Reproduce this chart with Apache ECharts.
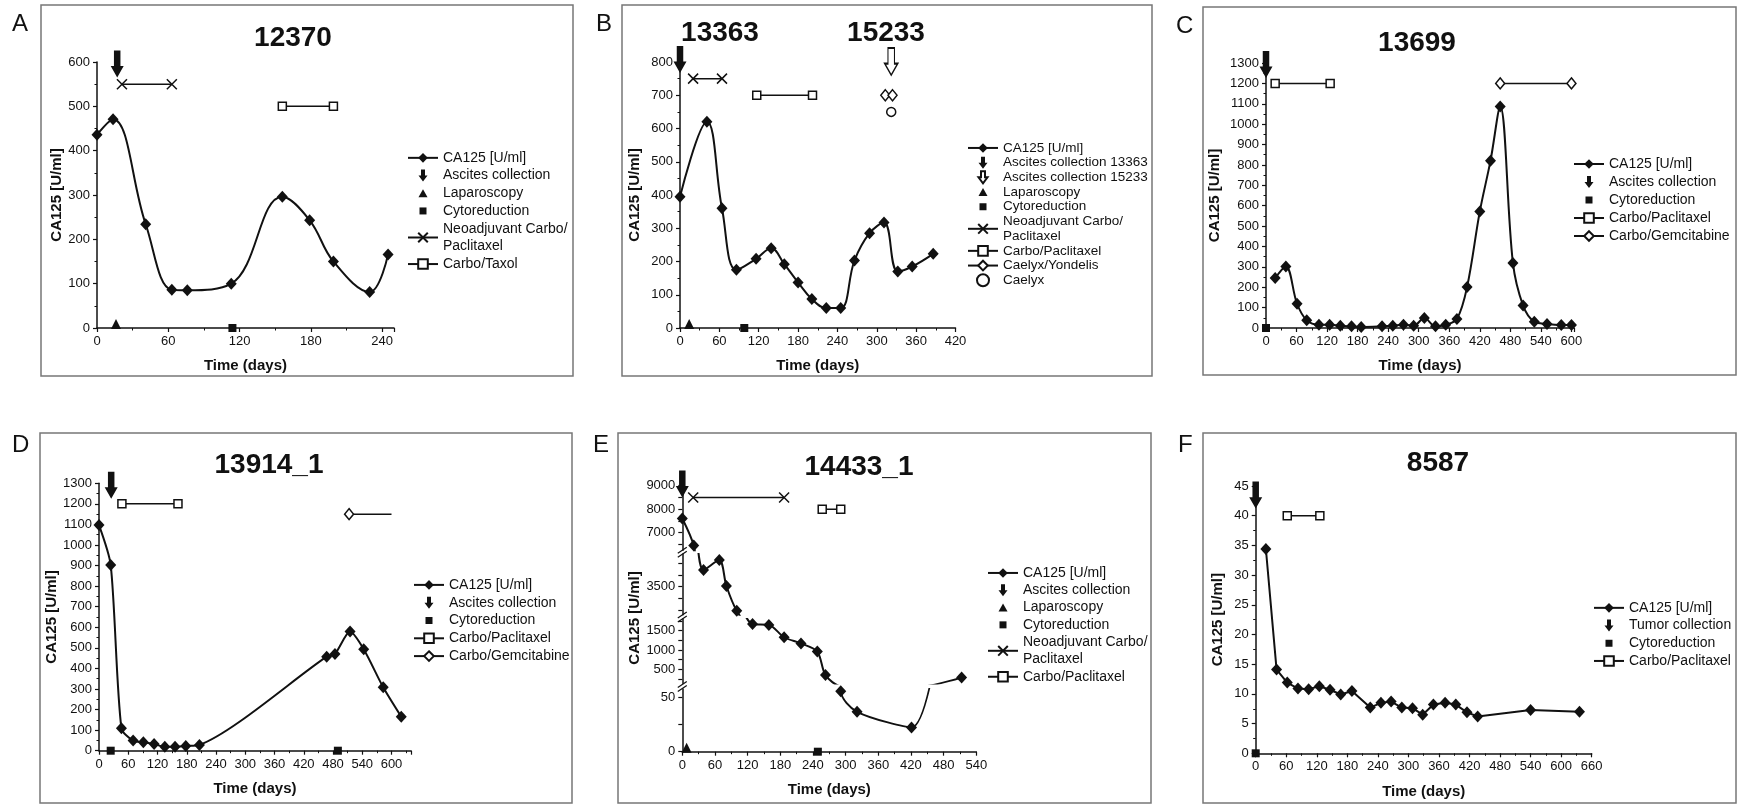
<!DOCTYPE html>
<html>
<head>
<meta charset="utf-8">
<script src="https://cdn.jsdelivr.net/npm/echarts@6/dist/echarts.min.js"></script>
<style>
html, body { margin: 0; padding: 0; background: #fff; }
#chart { width: 1747px; height: 804px; }
</style>
</head>
<body>
<div id="chart"></div>
<script>
// ---------- data: days after first visit, CA125 in U/ml ----------
// A: 12370
const aDays = [0, 13.5, 41, 63, 76, 113, 156, 179, 199, 229.5, 245];
const aCA125 = [436, 471, 234, 86, 85, 100, 296, 243, 150, 81, 166];
const aAscites = [[17, 565]];
const aLaparoscopy = [[16, 0]];
const aCytoreduction = [[114, 0]];
const aNeoadjuvant = [[21, 550], [63, 550]];
const aCarboTaxol = [[156, 500], [199, 500]];

// B: 13363 / 15233
const bDays = [0, 41, 64, 86, 116, 139, 159, 180, 201, 223, 245, 266, 289, 311, 332, 354, 386];
const bCA125 = [395, 620, 360, 175, 208, 240, 192, 137, 87, 60, 60, 203, 285, 317, 170, 185, 223];
const bAscites13363 = [[0, 767]];
const bAscites15233 = [[322, 761]];
const bLaparoscopy = [[14, 0]];
const bCytoreduction = [[98, 0]];
const bNeoadjuvant = [[20, 750], [64, 750]];
const bCarboPacli = [[117, 700], [202, 700]];
const bCaelyxYondelis = [[313, 700], [324, 700]];
const bCaelyx = [[322, 650]];

// C: 13699
const cDays = [18, 39, 61, 80, 104, 125, 146, 168, 187, 228, 249, 270, 290, 311, 333, 353, 375, 395, 420, 441, 460, 485, 505, 527, 552, 580, 600];
const cCA125 = [245, 302, 119, 38, 16, 16, 11, 8, 5, 8, 11, 16, 11, 49, 8, 16, 44, 201, 572, 821, 1087, 319, 110, 31, 20, 15, 15];
const cAscites = [[0, 1227]];
const cCytoreduction = [[0, 0]];
const cCarboPacli = [[18, 1200], [126, 1200]];
const cCarboGem = [[460, 1200], [600, 1200]];

// D: 13914_1
const dDays = [0, 24, 46, 70, 91, 113, 135, 156, 178, 206, 467, 484, 515, 543, 583, 620];
const dCA125 = [1097, 903, 109, 49, 41, 32, 19, 19, 23, 28, 457, 470, 579, 493, 308, 165];
const dAscites = [[25, 1225]];
const dCytoreduction = [[24, 0], [490, 0]];
const dCarboPacli = [[47, 1200], [162, 1200]];
const dCarboGemStart = [513, 1150];
const dCarboGemEnd = [600, 1150];

// E: 14433_1 (broken value axis)
const eDays = [0, 21, 39, 68, 81, 100, 129, 159, 187, 218, 248, 263, 291, 321, 421, 513];
const eCA125 = [7600, 6450, 4210, 4640, 3530, 2470, 1670, 1650, 1330, 1170, 960, 350, 56, 37, 22.5, 285];
const eAscites = [[0, 8500]];
const eLaparoscopy = [[8, 0]];
const eCytoreduction = [[249, 0]];
const eNeoadjuvant = [[20, 8500], [187, 8500]];
const eCarboPacli = [[257, 8000], [291, 8000]];
// axis pieces of the broken axis, top to bottom: [min, max]
const eRanges = [[6250, 9300], [2300, 4900], [130, 1800], [0, 58]];
const eLabels = [[7000, 8000, 9000], [3500], [500, 1000, 1500], [0, 50]];
const eTicks = [[6500, 7000, 7500, 8000, 8500, 9000], [2500, 3000, 3500, 4000, 4500],
  [250, 500, 750, 1000, 1250, 1500, 1750], [0, 25, 50]];

// F: 8587
const fDays = [20, 41, 62, 83, 104, 125, 146, 167, 189, 225, 246, 266, 287, 308, 328, 349, 372, 393, 415, 436, 540, 636];
const fCA125 = [34.4, 14.1, 11.9, 10.9, 10.8, 11.3, 10.7, 9.9, 10.5, 7.7, 8.5, 8.7, 7.7, 7.6, 6.5, 8.2, 8.5, 8.2, 6.9, 6.2, 7.3, 7.0];
const fTumor = [[0, 41.2]];
const fCytoreduction = [[0, 0]];
const fCarboPacli = [[62, 40], [126, 40]];

// ---------- styling ----------
const FONT = '"Liberation Sans", Arial, sans-serif';
const INK = '#111';
const ARROW = 'path://M3,0L9,0L9,15L12,15L6,26L0,15L3,15Z';
const CROSS = 'path://M0,0L10,10M10,0L0,10';
const SMALL_RECT = 'path://M0,0M12,12M2.5,2.5L9.5,2.5L9.5,9.5L2.5,9.5Z';
const SMALL_TRI = 'path://M0,0M12,12M6,2L10.5,10L1.5,10Z';
const WIDE_ARROW = 'path://M0,0M10,0M3,0L7,0L7,6L9.5,6L5,12L0.5,6L3,6Z';

const NEO = 'Neoadjuvant Carbo/\nPaclitaxel';

const grids = [
  { left: 97, top: 62, width: 297, height: 266 },        // A
  { left: 680, top: 62, width: 275.5, height: 266 },     // B
  { left: 1266, top: 63, width: 308, height: 265 },      // C
  { left: 99, top: 483.3, width: 312, height: 267.4 },   // D
  { left: 682.3, top: 478.6, width: 294, height: 71.7 }, // E pieces
  { left: 682.3, top: 554, width: 294, height: 60.7 },
  { left: 682.3, top: 619.1, width: 294, height: 64.5 },
  { left: 682.3, top: 689.1, width: 294, height: 62.6 },
  { left: 1255.7, top: 486, width: 336, height: 267.3 }  // F
];

const pts = (days, vals) => days.map((d, i) => [d, vals[i]]);

const labelStyle = { color: INK, fontSize: 13, fontFamily: FONT, margin: 7 };
const nameStyle = { color: INK, fontSize: 15, fontWeight: 'bold', fontFamily: FONT };

function xAx(gi, max, extra) {
  return Object.assign({
    type: 'value', gridIndex: gi, min: 0, max: max, interval: 60,
    axisLine: { onZero: false, lineStyle: { color: INK, width: 1.5 } },
    axisTick: { length: 4, lineStyle: { color: INK, width: 1.2 } },
    minorTick: { show: true, splitNumber: 2, length: 2.5, lineStyle: { color: INK } },
    splitLine: { show: false },
    axisLabel: Object.assign({ formatter: v => (v % 60 ? '' : String(v)) }, labelStyle),
    name: 'Time (days)', nameLocation: 'middle', nameGap: 30.5, nameTextStyle: nameStyle
  }, extra || {});
}

function yAx(gi, max, interval, nameGap) {
  return {
    type: 'value', gridIndex: gi, min: 0, max: max, interval: interval,
    axisLine: { onZero: false, lineStyle: { color: INK, width: 1.5 } },
    axisTick: { length: 4, lineStyle: { color: INK, width: 1.2 } },
    minorTick: { show: true, splitNumber: 2, length: 2.5, lineStyle: { color: INK } },
    splitLine: { show: false },
    axisLabel: Object.assign({ formatter: v => String(v) }, labelStyle),
    name: 'CA125 [U/ml]', nameLocation: 'middle', nameGap: nameGap, nameTextStyle: nameStyle
  };
}

function eYAx(k) {
  return {
    type: 'value', gridIndex: 4 + k, min: eRanges[k][0], max: eRanges[k][1],
    axisLine: { onZero: false, lineStyle: { color: INK, width: 1.5 } },
    axisTick: { length: 4, lineStyle: { color: INK, width: 1.2 }, customValues: eTicks[k] },
    splitLine: { show: false },
    axisLabel: Object.assign({ customValues: eLabels[k], formatter: v => String(v) }, labelStyle)
  };
}

function caLine(gi, days, vals, smooth) {
  return {
    type: 'line', name: 'CA125 [U/ml]', xAxisIndex: gi, yAxisIndex: gi,
    data: pts(days, vals), smooth: smooth, symbol: 'diamond', symbolSize: [11, 12],
    lineStyle: { color: INK, width: 2 }, itemStyle: { color: INK, opacity: 1 }, z: 3
  };
}

function mark(gi, name, data, symbol, size, hollow, offset) {
  return {
    type: 'scatter', name: name, xAxisIndex: gi, yAxisIndex: gi, data: data, clip: false,
    symbol: symbol, symbolSize: size, symbolOffset: offset || [0, 0],
    itemStyle: hollow ? { color: '#fff', borderColor: INK, borderWidth: 1.5, opacity: 1 }
                      : { color: INK, opacity: 1 },
    z: 4
  };
}

const arrow = (gi, name, data, hollow) => mark(gi, name, data, ARROW, [13, 27], hollow, [0, '-50%']);

function treat(gi, name, data, symbol, size) {
  return {
    type: 'line', name: name, xAxisIndex: gi, yAxisIndex: gi, data: data, clip: false,
    symbol: symbol, symbolSize: size, showAllSymbol: true,
    lineStyle: { color: INK, width: 1.5 },
    itemStyle: { color: '#fff', borderColor: INK, borderWidth: 1.5 }, z: 4
  };
}

function legend(left, top, names, lineHeight, fontSize) {
  return {
    left: left, top: top, orient: 'vertical', padding: 0, itemGap: 0,
    itemWidth: 30, itemHeight: 12, selectedMode: false,
    textStyle: { color: INK, fontSize: fontSize || 14, fontFamily: FONT, lineHeight: lineHeight },
    data: names.map(n => {
      if (n === 'Cytoreduction') return { name: n, icon: SMALL_RECT };
      if (n === 'Laparoscopy') return { name: n, icon: SMALL_TRI };
      if (n.indexOf('collection') >= 0) return { name: n, icon: WIDE_ARROW };
      return n;
    })
  };
}

// ---------- series ----------
const series = [
  // A
  caLine(0, aDays, aCA125, 0.4),
  arrow(0, 'Ascites collection', aAscites, false),
  mark(0, 'Laparoscopy', aLaparoscopy, 'triangle', 10, false, [0, '-40%']),
  mark(0, 'Cytoreduction', aCytoreduction, 'rect', 8),
  treat(0, NEO, aNeoadjuvant, CROSS, 10),
  treat(0, 'Carbo/Taxol', aCarboTaxol, 'rect', 8),
  // B
  caLine(1, bDays, bCA125, 0.4),
  arrow(1, 'Ascites collection 13363', bAscites13363, false),
  arrow(1, 'Ascites collection 15233', bAscites15233, true),
  mark(1, 'Laparoscopy', bLaparoscopy, 'triangle', 10, false, [0, '-40%']),
  mark(1, 'Cytoreduction', bCytoreduction, 'rect', 8),
  treat(1, NEO, bNeoadjuvant, CROSS, 10),
  treat(1, 'Carbo/Paclitaxel', bCarboPacli, 'rect', 8),
  treat(1, 'Caelyx/Yondelis', bCaelyxYondelis, 'diamond', [9, 11]),
  mark(1, 'Caelyx', bCaelyx, 'circle', 9, true),
  // C
  caLine(2, cDays, cCA125, 0.35),
  arrow(2, 'Ascites collection', cAscites, false),
  mark(2, 'Cytoreduction', cCytoreduction, 'rect', 8),
  treat(2, 'Carbo/Paclitaxel', cCarboPacli, 'rect', 8),
  treat(2, 'Carbo/Gemcitabine', cCarboGem, 'diamond', [9, 11]),
  // D
  caLine(3, dDays, dCA125, 0.25),
  arrow(3, 'Ascites collection', dAscites, false),
  mark(3, 'Cytoreduction', dCytoreduction, 'rect', 8),
  treat(3, 'Carbo/Paclitaxel', dCarboPacli, 'rect', 8),
  treat(3, 'Carbo/Gemcitabine', [dCarboGemStart, { value: dCarboGemEnd, symbol: 'none' }], 'diamond', [9, 11]),
  // E (one copy of the curve per axis piece)
  caLine(4, eDays, eCA125, 0.3),
  caLine(5, eDays, eCA125, 0.3),
  caLine(6, eDays, eCA125, 0.3),
  caLine(7, eDays, eCA125, 0.3),
  arrow(4, 'Ascites collection', eAscites, false),
  mark(7, 'Laparoscopy', eLaparoscopy, 'triangle', 10, false, [0, '-40%']),
  mark(7, 'Cytoreduction', eCytoreduction, 'rect', 8),
  treat(4, NEO, eNeoadjuvant, CROSS, 10),
  treat(4, 'Carbo/Paclitaxel', eCarboPacli, 'rect', 8),
  // F
  caLine(8, fDays, fCA125, false),
  arrow(8, 'Tumor collection', fTumor, false),
  mark(8, 'Cytoreduction', fCytoreduction, 'rect', 8),
  treat(8, 'Carbo/Paclitaxel', fCarboPacli, 'rect', 8)
];

// ---------- decorations ----------
const panels = [
  [41, 5, 532, 371], [622, 5, 530, 371], [1203, 7, 533, 368],
  [40, 433, 532, 370], [618, 433, 533, 370], [1203, 433, 533, 370]
];
const letters = [['A', 12, 12], ['B', 596, 12], ['C', 1176, 14], ['D', 12, 433], ['E', 593, 433], ['F', 1178, 433]];
const titles = [['12370', 293, 38], ['13363', 720, 33], ['15233', 886, 33], ['13699', 1417, 43],
  ['13914_1', 269, 465], ['14433_1', 859, 467], ['8587', 1438, 463]];

const graphic = [];
panels.forEach(p => graphic.push({
  type: 'rect', shape: { x: p[0], y: p[1], width: p[2], height: p[3] },
  style: { fill: 'none', stroke: '#777', lineWidth: 1.5 }, silent: true
}));
letters.forEach(l => graphic.push({
  type: 'text', x: l[1], y: l[2],
  style: { text: l[0], fill: INK, font: '24px ' + FONT, textAlign: 'left', textVerticalAlign: 'top' }
}));
titles.forEach(t => graphic.push({
  type: 'text', x: t[1], y: t[2],
  style: { text: t[0], fill: INK, font: 'bold 28px ' + FONT, textAlign: 'center', textVerticalAlign: 'middle' }
}));
// y name of the broken axis
graphic.push({
  type: 'text', x: 635, y: 618, rotation: Math.PI / 2,
  style: { text: 'CA125 [U/ml]', fill: INK, font: 'bold 15px ' + FONT, textAlign: 'center', textVerticalAlign: 'middle' }
});
// break marks between the axis pieces
[552.3, 616.9, 686.4].forEach(y => {
  [-2, 2].forEach(dy => graphic.push({
    type: 'line', shape: { x1: 677.8, y1: y + dy + 3, x2: 686.8, y2: y + dy - 3 },
    style: { stroke: INK, lineWidth: 1.2 }
  }));
});

const xAxes = [
  xAx(0, 250), xAx(1, 420), xAx(2, 605, { nameGap: 30 }), xAx(3, 640),
  xAx(4, 540, { show: false }), xAx(5, 540, { show: false }), xAx(6, 540, { show: false }),
  xAx(7, 540, { nameGap: 31 }), xAx(8, 660, { nameGap: 31 })
];
const yAxes = [
  yAx(0, 600, 100, 32.5), yAx(1, 800, 100, 37.5), yAx(2, 1300, 100, 43.5), yAx(3, 1300, 100, 40),
  eYAx(0), eYAx(1), eYAx(2), eYAx(3),
  yAx(8, 45, 5, 30)
];

const legends = [
  legend(407, 149, ['CA125 [U/ml]', 'Ascites collection', 'Laparoscopy', 'Cytoreduction', NEO, 'Carbo/Taxol'], 17.7),
  legend(967, 140.6, ['CA125 [U/ml]', 'Ascites collection 13363', 'Ascites collection 15233', 'Laparoscopy',
    'Cytoreduction', NEO, 'Carbo/Paclitaxel', 'Caelyx/Yondelis', 'Caelyx'], 14.7, 13.5),
  legend(1573, 155, ['CA125 [U/ml]', 'Ascites collection', 'Cytoreduction', 'Carbo/Paclitaxel', 'Carbo/Gemcitabine'], 18),
  legend(413, 576, ['CA125 [U/ml]', 'Ascites collection', 'Cytoreduction', 'Carbo/Paclitaxel', 'Carbo/Gemcitabine'], 17.8),
  legend(987, 564.3, ['CA125 [U/ml]', 'Ascites collection', 'Laparoscopy', 'Cytoreduction', NEO, 'Carbo/Paclitaxel'], 17.3),
  legend(1593, 599, ['CA125 [U/ml]', 'Tumor collection', 'Cytoreduction', 'Carbo/Paclitaxel'], 17.7)
];

const chart = echarts.init(document.getElementById('chart'));
chart.setOption({
  animation: false,
  backgroundColor: '#fff',
  textStyle: { fontFamily: FONT },
  grid: grids.map(g => Object.assign({ outerBoundsMode: 'none' }, g)),
  xAxis: xAxes,
  yAxis: yAxes,
  legend: legends,
  graphic: graphic,
  series: series
});
</script>
</body>
</html>
